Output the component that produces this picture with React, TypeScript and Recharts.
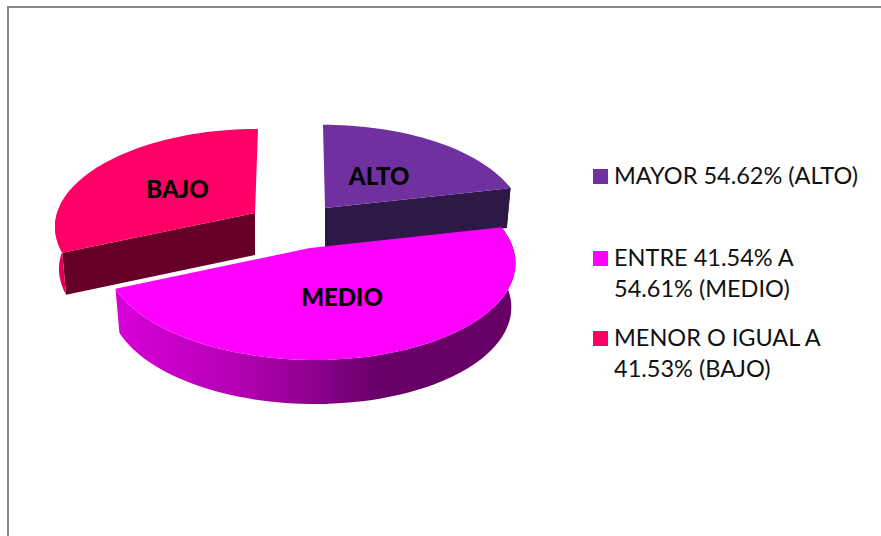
import React from 'react';
import { PieChart, Pie, Legend } from 'recharts';

const levels = ['ALTO', 'MEDIO', 'BAJO'];
const shares = [21.5, 47, 31.5];
const legendLabels = ['MAYOR 54.62% (ALTO)', 'ENTRE 41.54% A 54.61% (MEDIO)', 'MENOR O IGUAL A 41.53% (BAJO)'];
const topColors = ['#7030a0', '#ff00ff', '#ff0066'];
const wallColors = ['#2d1846', 'url(#medioRim)', '#660028'];
const rimColors = ['#2d1846', 'url(#medioRim)', '#e0005a'];

const rows = levels.map((level, i) => ({
  level,
  share: shares[i],
  legend: legendLabels[i],
  fill: topColors[i],
}));

// the exploded offset of each slice, in px from the pie centre, plus its 3d look
const EXPLODE: Record<string, { dx: number; dy: number; scale: number; depth: number; lean: number; labelAt: number; labelDx: number }> = {
  ALTO: { dx: 15, dy: -40, scale: 0.965, depth: 40, lean: -2, labelAt: 0.47, labelDx: 0 },
  MEDIO: { dx: 0, dy: 0, scale: 1, depth: 44, lean: -5, labelAt: 0.49, labelDx: -3 },
  BAJO: { dx: -55, dy: -35, scale: 0.975, depth: 42, lean: 3, labelAt: 0.49, labelDx: 0 },
};
const TILT = 0.48;
const PERSPECTIVE = 0.13;
const FLOOR_SHRINK = 0.98;
const LEGEND_GAPS = [0, 50, 17];
const FONT = 'Lato, sans-serif';

// clockwise degrees from the top of the disc -> screen position
const project = (level: string, theta: number, r: number, cx: number, cy: number, radius: number) => {
  const e = EXPLODE[level];
  const t = (theta * Math.PI) / 180;
  const c = Math.cos(t) * r;
  const s = Math.sin(t) * r;
  const k = 1 / (1 + PERSPECTIVE * c);
  return [cx + e.dx + radius * e.scale * s * k + e.lean * c, cy + e.dy - radius * e.scale * TILT * c * k];
};

const toPath = (pts: number[][]) =>
  pts.map((p, i) => `${i ? 'L' : 'M'}${p[0].toFixed(1)} ${p[1].toFixed(1)}`).join(' ') + ' Z';

const arcAngles = (from: number, to: number) => {
  const out: number[] = [];
  for (let a = from; a < to; a += 2) out.push(a);
  out.push(to);
  return out;
};

const Slice3D = (props: any) => {
  const { cx, cy, outerRadius, startAngle, endAngle, payload } = props;
  const level = payload?.level ?? props.level;
  const idx = levels.indexOf(level);
  const depth = EXPLODE[level].depth;
  const ax = cx + EXPLODE[level].dx;
  const from = 90 - startAngle;
  const to = 90 - endAngle;
  const at = (theta: number, r: number) => project(level, theta, r, cx, cy, outerRadius);
  const drop = (p: number[]) => [ax + (p[0] - ax) * FLOOR_SHRINK, p[1] + depth];

  const top = [at(from, 0), ...arcAngles(from, to).map((a) => at(a, 1))];

  const faceVisible = (theta: number, side: number) => Math.cos(((theta + side * 90) * Math.PI) / 180) < 0;
  const face = (theta: number) => {
    const a = at(theta, 0);
    const b = at(theta, 1);
    return toPath([a, b, drop(b), drop(a)]);
  };

  const rimFrom = Math.max(from, 75);
  const rimTo = Math.min(to, 285);
  const rimPts = rimFrom < rimTo ? arcAngles(rimFrom, rimTo).map((a) => at(a, 1)) : [];

  return (
    <g>
      {faceVisible(from, -1) && <path d={face(from)} fill={wallColors[idx]} />}
      {faceVisible(to, 1) && <path d={face(to)} fill={wallColors[idx]} />}
      {rimPts.length > 0 && <path d={toPath([...rimPts, ...[...rimPts].reverse().map(drop)])} fill={rimColors[idx]} />}
      <path d={toPath(top)} fill={topColors[idx]} />
    </g>
  );
};

const sliceLabel = (props: any) => {
  const { cx, cy, outerRadius, midAngle, payload } = props;
  const level = payload?.level ?? props.level;
  const [x, y] = project(level, 90 - midAngle, EXPLODE[level].labelAt, cx, cy, outerRadius);
  return (
    <text x={x + EXPLODE[level].labelDx} y={y} textAnchor="middle" dominantBaseline="central" fontFamily={FONT} fontWeight={900} fontSize={24} fill="#000">
      {level}
    </text>
  );
};

const renderLegend = ({ payload }: any) => (
  <div style={{ fontFamily: FONT, fontSize: 23.5, lineHeight: '31.5px', color: '#111' }}>
    {(payload ?? []).map((entry: any, i: number) => (
      <div key={entry.value} style={{ display: 'flex', marginTop: LEGEND_GAPS[i] }}>
        <span style={{ flex: '0 0 15px', height: 15, marginTop: 9, marginRight: 6, background: topColors[i] }} />
        <span style={{ width: 255 }}>{entry.value}</span>
      </div>
    ))}
  </div>
);

export default function App() {
  return (
    <div style={{ position: 'absolute', left: 0, top: 0, width: 881, height: 536, background: '#fff', overflow: 'hidden' }}>
      <div style={{ position: 'absolute', left: 7, top: 6, width: 874, height: 530, borderTop: '2px solid #888', borderLeft: '2px solid #888', boxSizing: 'border-box' }} />
      <PieChart width={881} height={536} margin={{ top: 0, right: 0, bottom: 0, left: 0 }}>
        <defs>
          <linearGradient id="medioRim" gradientUnits="userSpaceOnUse" x1={117} y1={0} x2={515} y2={0}>
            <stop offset="0" stopColor="#d800d8" />
            <stop offset="0.3" stopColor="#b400b4" />
            <stop offset="0.45" stopColor="#960096" />
            <stop offset="0.67" stopColor="#660066" />
            <stop offset="1" stopColor="#660066" />
          </linearGradient>
        </defs>
        <Pie
          data={rows}
          dataKey="share"
          nameKey="legend"
          cx={310}
          cy={248}
          outerRadius={203}
          startAngle={90}
          endAngle={-270}
          stroke="none"
          shape={Slice3D}
          label={sliceLabel}
          labelLine={false}
          isAnimationActive={false}
        />
        <Legend content={renderLegend} itemSorter={null} wrapperStyle={{ left: 593, top: 160, width: 285, bottom: 'auto', right: 'auto' }} />
      </PieChart>
    </div>
  );
}
